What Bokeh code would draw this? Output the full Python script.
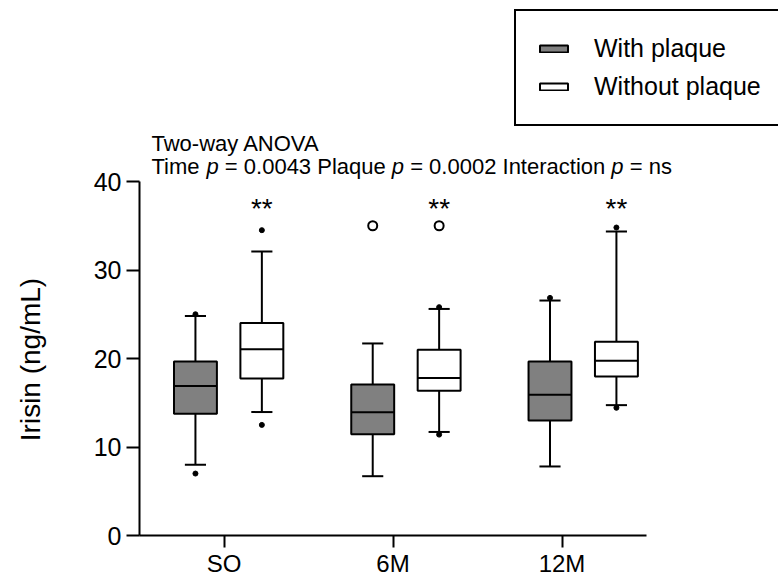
import math
from bokeh.plotting import figure
from bokeh.models import (Range1d, FixedTicker, Label, Legend, LegendItem,
                          ColumnDataSource)
from bokeh.core.properties import value
from bokeh.embed import file_html
from bokeh.resources import INLINE

# ---------------- data ----------------
categories = ["SO", "6M", "12M"]

with_low = [8.0, 6.7, 7.8]
with_q1 = [13.75, 11.45, 13.0]
with_med = [16.9, 13.93, 15.9]
with_q3 = [19.66, 17.06, 19.66]
with_high = [24.8, 21.7, 26.55]

without_low = [13.95, 11.7, 14.73]
without_q1 = [17.74, 16.35, 17.97]
without_med = [21.05, 17.8, 19.74]
without_q3 = [24.0, 21.0, 21.9]
without_high = [32.1, 25.6, 34.35]

# points beyond whiskers (filled dots)
with_dot_cat = ["SO", "SO", "12M"]
with_dot_val = [25.0, 7.0, 26.85]
without_dot_cat = ["SO", "SO", "6M", "6M", "12M", "12M"]
without_dot_val = [34.5, 12.5, 25.8, 11.4, 34.8, 14.43]

# outliers (open circles)
with_out_cat = ["6M"]
with_out_val = [35.0]
without_out_cat = ["6M"]
without_out_val = [35.0]

sig_labels = ["**", "**", "**"]
sig_level = 37.0

y_ticks = [0, 10, 20, 30, 40]
y_max = 40
n_cat = len(categories)

# ---------------- layout ----------------
FONT = "Liberation Sans"
W, H = 778, 579
AX_LEFT, AX_RIGHT, AX_TOP, AX_BOTTOM = 139, 646, 181, 535   # pixel box of the axes

GROUP_STEP = 1.049
WITH_OFF = 0.331
PAIR_GAP = 0.393
BOX_W = 0.254
CAP_W = 0.125

idx = {c: i for i, c in enumerate(categories)}
x_with = [WITH_OFF + GROUP_STEP * i for i in range(n_cat)]
x_without = [x + PAIR_GAP for x in x_with]
tick_pos = [i + 0.5 for i in range(n_cat)]

# the frame spans the whole canvas, so that the notes, legend and y title can sit in it;
# both axes are pinned at 0 and limited with bounds
px_x = (AX_RIGHT - AX_LEFT) / n_cat
px_y = (AX_BOTTOM - AX_TOP) / y_max
x_start = -AX_LEFT / px_x
x_end = (W - AX_LEFT) / px_x
y_start = -(H - AX_BOTTOM) / px_y
y_end = AX_BOTTOM / px_y


def sy(px):  # screen y (from the bottom of the frame) for a pixel row from the top
    return H - px


p = figure(width=W, height=H, x_range=Range1d(x_start, x_end),
           y_range=Range1d(y_start, y_end),
           output_backend="svg", toolbar_location=None,
           min_border_left=0, min_border_right=0, min_border_top=0,
           min_border_bottom=0)
p.outline_line_color = None
p.xgrid.visible = False
p.ygrid.visible = False
p.background_fill_color = "white"
p.border_fill_color = "white"


def draw_boxes(xs, low, q1, med, q3, high, fill):
    src = ColumnDataSource(dict(
        x=xs, low=low, q1=q1, med=med, q3=q3, high=high,
        l=[x - BOX_W / 2 for x in xs], r=[x + BOX_W / 2 for x in xs],
        cl=[x - CAP_W / 2 for x in xs], cr=[x + CAP_W / 2 for x in xs]))
    kw = dict(source=src, line_color="black", line_width=2)
    p.segment(x0="x", y0="q3", x1="x", y1="high", **kw)
    p.segment(x0="x", y0="q1", x1="x", y1="low", **kw)
    p.segment(x0="cl", y0="high", x1="cr", y1="high", **kw)
    p.segment(x0="cl", y0="low", x1="cr", y1="low", **kw)
    r = p.quad(left="l", right="r", bottom="q1", top="q3", fill_color=fill, **kw)
    p.segment(x0="l", y0="med", x1="r", y1="med", **kw)
    return r


r_with = draw_boxes(x_with, with_low, with_q1, with_med, with_q3, with_high, "#808080")
r_without = draw_boxes(x_without, without_low, without_q1, without_med, without_q3,
                       without_high, "white")

# dots
p.scatter(x=[x_with[idx[c]] for c in with_dot_cat], y=with_dot_val,
          size=5, fill_color="black", line_color="black")
p.scatter(x=[x_without[idx[c]] for c in without_dot_cat], y=without_dot_val,
          size=5, fill_color="black", line_color="black")
p.scatter(x=[x_with[idx[c]] for c in with_out_cat], y=with_out_val,
          size=9, fill_color="white", line_color="black", line_width=2)
p.scatter(x=[x_without[idx[c]] for c in without_out_cat], y=without_out_val,
          size=9, fill_color="white", line_color="black", line_width=2)

# significance stars
p.text(x=x_without, y=[sig_level] * n_cat, text=sig_labels,
       text_font=value(FONT), text_font_size="28px", text_align="center",
       text_baseline="middle", text_color="black")

# axes
p.yaxis.ticker = FixedTicker(ticks=y_ticks)
p.yaxis.bounds = (0, y_max)
p.yaxis.fixed_location = 0
p.xaxis.ticker = FixedTicker(ticks=tick_pos)
p.xaxis.bounds = (0, n_cat)
p.xaxis.fixed_location = 0
p.xaxis.major_label_overrides = {t: c for t, c in zip(tick_pos, categories)}
for ax in (p.xaxis, p.yaxis):
    ax.axis_line_color = "black"
    ax.axis_line_width = 2
    ax.major_tick_line_color = "black"
    ax.major_tick_line_width = 2
    ax.major_tick_in = 0
    ax.minor_tick_line_color = None
    ax.major_label_text_font = FONT
    ax.major_label_text_font_size = "25px"
    ax.major_label_text_color = "black"
p.xaxis.major_label_text_font_size = "24px"
p.xaxis.major_tick_out = 12
p.yaxis.major_tick_out = 13
p.xaxis.major_label_standoff = 2
p.yaxis.major_label_standoff = 5

# y-axis title, centred on the 0-40 span
p.add_layout(Label(x=30, y=sy(359), x_units="screen", y_units="screen",
                   text="Irisin (ng/mL)", angle=math.pi / 2, text_font=FONT,
                   text_font_size="28px", text_align="center", text_baseline="middle",
                   text_color="black"))

# ANOVA notes
TITLE_SIZE = 22
NOTE_X = 151.0
LINE1_BASE = 143.0
LINE2_BASE = 166.0
p.add_layout(Label(x=NOTE_X, y=sy(LINE1_BASE), x_units="screen", y_units="screen",
                   text="Two-way ANOVA", text_font=FONT,
                   text_font_size=f"{TITLE_SIZE}px", text_baseline="alphabetic",
                   text_color="black"))

ARIAL = {" ": 278, "=": 584, ".": 278, "T": 611, "i": 222, "m": 833, "e": 556,
         "P": 667, "l": 222, "a": 556, "q": 556, "u": 556, "I": 278, "n": 556,
         "t": 278, "r": 333, "c": 500, "o": 556, "s": 500, "p": 556}
for d in "0123456789":
    ARIAL[d] = 556


def text_w(s):
    return sum(ARIAL.get(ch, 556) for ch in s) / 1000 * TITLE_SIZE


pieces = [("Time ", "normal"), ("p", "italic"), (" = 0.0043 Plaque ", "normal"),
          ("p", "italic"), (" = 0.0002 Interaction ", "normal"), ("p", "italic"),
          (" = ns", "normal")]
cx = NOTE_X
for txt, style in pieces:
    lead = len(txt) - len(txt.lstrip(" "))
    p.add_layout(Label(x=cx + text_w(txt[:lead]), y=sy(LINE2_BASE),
                       x_units="screen", y_units="screen",
                       text=txt.strip(" "), text_font=FONT,
                       text_font_size=f"{TITLE_SIZE}px",
                       text_font_style=style, text_baseline="alphabetic",
                       text_color="black"))
    cx += text_w(txt)

# legend
legend = Legend(items=[LegendItem(label="With plaque", renderers=[r_with]),
                       LegendItem(label="Without plaque", renderers=[r_without])],
                location=(514, sy(126)), orientation="vertical",
                glyph_width=35, glyph_height=9, label_standoff=23,
                label_text_font=FONT, label_text_font_size="25px",
                label_text_color="black",
                label_height=35, spacing=3, padding=20, margin=0,
                border_line_color="black", border_line_width=2, border_line_alpha=1.0,
                background_fill_color="white", background_fill_alpha=1.0)
p.add_layout(legend)

open("out.html", "w").write(file_html(p, INLINE))
